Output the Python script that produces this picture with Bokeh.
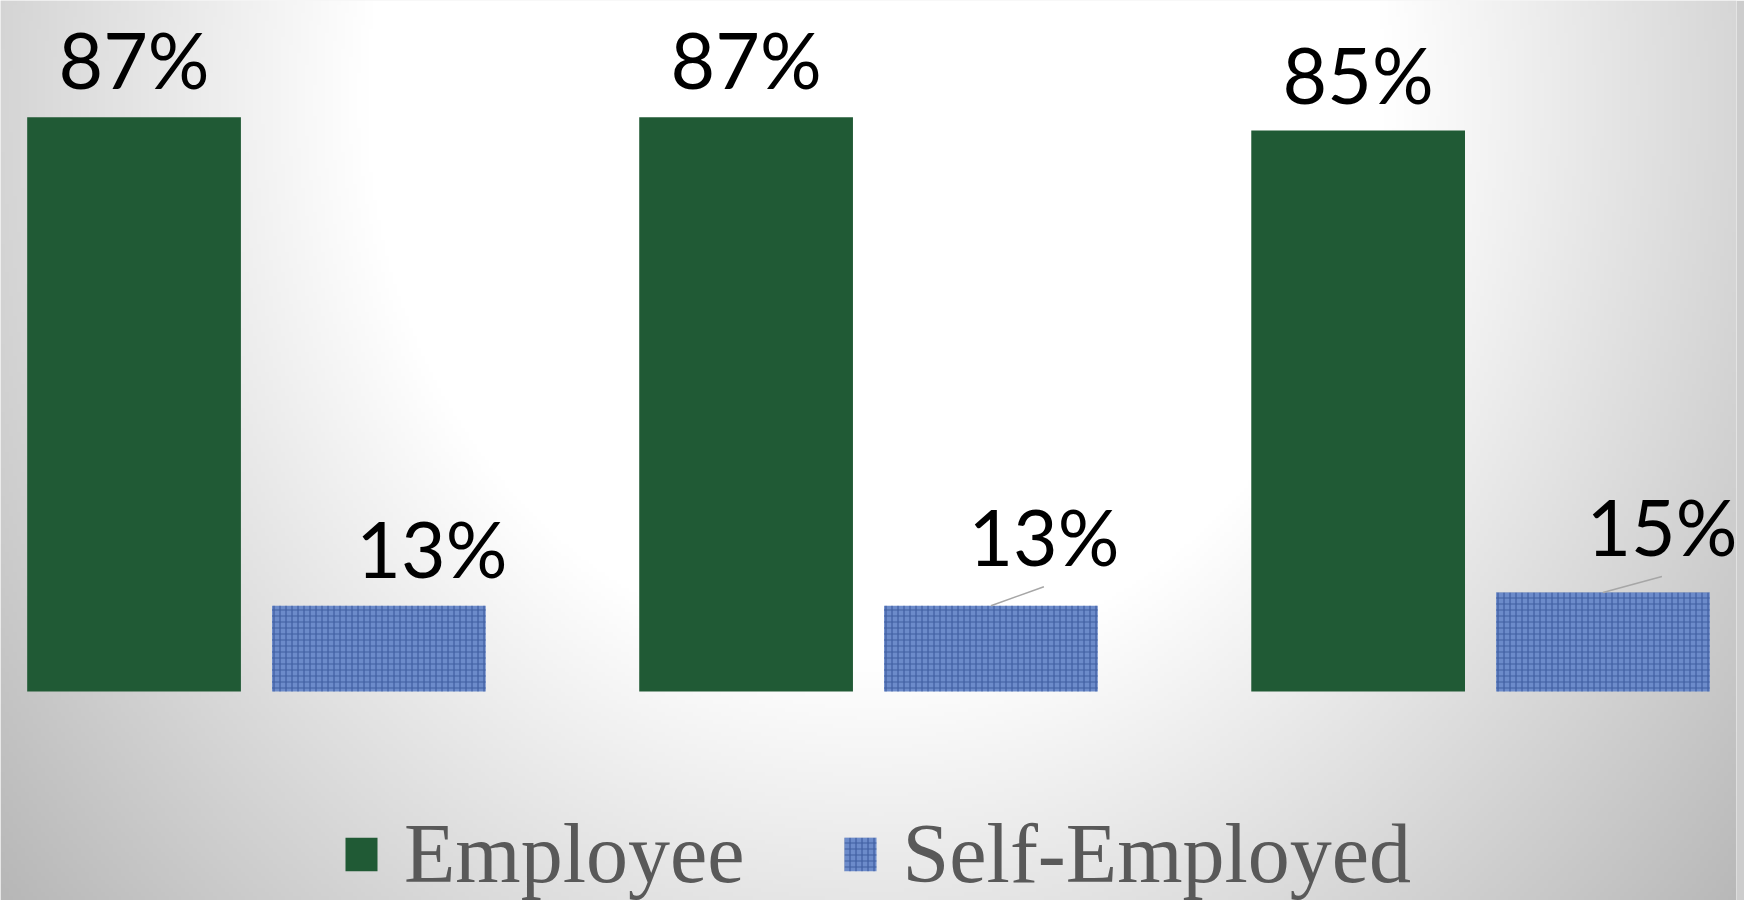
import numpy as np
from bokeh.plotting import figure
from bokeh.models import ColumnDataSource, FactorRange, Range1d, Legend, LegendItem
from bokeh.embed import file_html
from bokeh.resources import INLINE
from bokeh.core.properties import value

# ---------------- data ----------------
categories = ["Category 1", "Category 2", "Category 3"]
series = ["Employee", "Self-Employed"]
employee = [87, 87, 85]
self_employed = [13, 13, 15]

# ---------------- styling / layout ----------------
W, H = 1744, 900
RIGHT_BORDER = 8
X_PAD = 0.0455                  # factor-unit padding on each side
FRAME_W = W - RIGHT_BORDER
PX_PER_UNIT_X = FRAME_W / (7 + 2 * X_PAD)
PX_PER_PCT = 6.6                # px per percentage point
BASELINE_FROM_TOP = 691         # px
green = "#205a35"
blue = "#6c8bca"
TEXT_SHIFT = 27                 # compensation for text box baseline

# label offsets (pixels): horizontal shift, gap above bar top
emp_label_dx = [0, 0, 0]
emp_label_gap = [31, 31, 30]
se_label_dx = [53, 53, 59]
se_label_gap = [31, 43, 40]
se_leader = [False, True, True]

factors = [(c, s) for c in categories for s in series]
x_range = FactorRange(factors=factors, factor_padding=0.0, group_padding=0.5,
                      range_padding=X_PAD, range_padding_units="absolute")
y_range = Range1d(start=-(H - BASELINE_FROM_TOP) / PX_PER_PCT, end=BASELINE_FROM_TOP / PX_PER_PCT)

p = figure(width=W, height=H, x_range=x_range, y_range=y_range,
           output_backend="svg", toolbar_location=None,
           x_axis_location=None, y_axis_location=None,
           min_border_left=0, min_border_right=RIGHT_BORDER,
           min_border_top=0, min_border_bottom=0)
p.grid.visible = False
p.outline_line_color = None
p.border_fill_color = "#cdcdcd"
p.background_fill_color = "#eeeeee"

# ---------------- background radial gradient ----------------
nx, ny = 434, 225
xs = (np.arange(nx) + 0.5) / nx * FRAME_W
ys = (np.arange(ny) + 0.5) / ny * H
X, Y = np.meshgrid(xs, ys)
d = np.sqrt((X - 876) ** 2 + ((Y - 100) / 1.1) ** 2)
g = np.clip(255 - 0.115 * (d - 510), 0, 255).astype(np.uint8)
img = np.empty((ny, nx), dtype=np.uint32)
view = img.view(dtype=np.uint8).reshape((ny, nx, 4))
view[:, :, 0] = g
view[:, :, 1] = g
view[:, :, 2] = g
view[:, :, 3] = 255
img = np.flipud(img)
p.image_rgba(image=[img], x=-X_PAD, y=y_range.start, dw=7 + 2 * X_PAD,
             dh=y_range.end - y_range.start)

# ---------------- bars ----------------
emp_src = ColumnDataSource(dict(x=[(c, series[0]) for c in categories], top=employee))
se_src = ColumnDataSource(dict(x=[(c, series[1]) for c in categories], top=self_employed))

r_emp = p.vbar(x="x", top="top", bottom=0, width=0.873, source=emp_src,
               fill_color=green, line_color=None)
r_se = p.vbar(x="x", top="top", bottom=0, width=0.873, source=se_src,
              fill_color=blue, line_color=None,
              hatch_pattern="cross", hatch_color="#27458a", hatch_alpha=0.65,
              hatch_scale=6, hatch_weight=1.2)

# ---------------- data labels ----------------
lab_x = [(c, series[0]) for c in categories] + [(c, series[1]) for c in categories]
lab_y = employee + self_employed
lab_t = [f"{v}%" for v in lab_y]
lab_dx = emp_label_dx + se_label_dx
lab_dy = [-(g_ + TEXT_SHIFT) for g_ in emp_label_gap + se_label_gap]
lab_src = ColumnDataSource(dict(x=lab_x, y=lab_y, text=lab_t, dx=lab_dx, dy=lab_dy))
p.text(x="x", y="y", text="text", x_offset="dx", y_offset="dy", source=lab_src,
       text_font=value("Lato"), text_font_size="77px", text_color="#000000",
       text_align="center", text_baseline="alphabetic")

# ---------------- leader lines ----------------
x0, y0, x1, y1 = [], [], [], []
for c, v, dx, gap, show in zip(categories, self_employed, se_label_dx, se_label_gap, se_leader):
    if show:
        x0.append((c, series[1]))
        y0.append(v)
        x1.append((c, series[1], dx / PX_PER_UNIT_X))
        y1.append(v + (gap - 24) / PX_PER_PCT)
p.segment(x0=x0, y0=y0, x1=x1, y1=y1, line_color="#a6a6a6", line_width=1.5)

# ---------------- legend ----------------
legend = Legend(items=[LegendItem(label="Employee", renderers=[r_emp]),
                       LegendItem(label="Self-Employed", renderers=[r_se])],
                orientation="horizontal", location=(341, -2),
                padding=0, margin=0, spacing=95, label_standoff=23,
                glyph_width=40, glyph_height=42,
                label_text_font="Liberation Serif", label_text_font_size="84px",
                label_text_color="#595959", label_text_baseline="middle",
                background_fill_alpha=0, border_line_alpha=0)
p.add_layout(legend, "center")

open("out.html", "w").write(file_html(p, INLINE))
